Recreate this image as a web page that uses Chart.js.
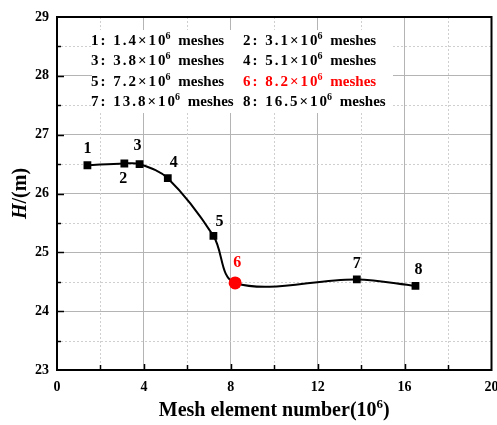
<!DOCTYPE html>
<html>
<head>
<meta charset="utf-8">
<script src="https://cdn.jsdelivr.net/npm/chart.js@4.4.1/dist/chart.umd.min.js"></script>
<style>
  html, body { margin: 0; padding: 0; background: #fff; }
  #wrap { width: 497px; height: 425px; }
</style>
</head>
<body>
<div id="wrap"><canvas id="grafico"></canvas></div>
<script>
// --- Dados ---
const meshCounts = [1.4, 3.1, 3.8, 5.1, 7.2, 8.2, 13.8, 16.5];      // x 10^6
const headValues = [26.48, 26.51, 26.50, 26.26, 25.28, 24.48, 24.54, 24.43];
const pointNames = ['1', '2', '3', '4', '5', '6', '7', '8'];
const selectedIndex = 5;   // ponto 6 em destaque
const xTicks = [0, 4, 8, 12, 16, 20];
const yTicks = [23, 24, 25, 26, 27, 28, 29];
const legendMeshes = ['1.4', '3.1', '3.8', '5.1', '7.2', '8.2', '13.8', '16.5'];

// offsets dos rótulos numéricos (px)
const labelOffsets = [[0, -16], [-1, 15], [-2, -18], [6, -15], [6, -14], [2, -20], [0, -16], [3, -16]];

const SERIF = '"Liberation Serif", "Times New Roman", serif';
const RED = '#ff0000';
const MAJOR_GRID = '#b4b4b4';
const MINOR_GRID = '#cfcfcf';

const $ = id => document.getElementById(id);

// --- Plugin: grade secundária, moldura, marcas internas, rótulos, legenda e títulos ---
const decoracao = {
    id: 'decoracao',
    beforeDatasetsDraw(chart) {
        const { ctx, chartArea: a, scales } = chart;
        const xs = scales.x, ys = scales.y;
        ctx.save();
        // grade secundária tracejada
        ctx.strokeStyle = MINOR_GRID;
        ctx.lineWidth = 1;
        ctx.setLineDash([2, 2]);
        for (let v = 2; v < 20; v += 4) {
            const px = Math.round(xs.getPixelForValue(v)) + 0.5;
            ctx.beginPath(); ctx.moveTo(px, a.top); ctx.lineTo(px, a.bottom); ctx.stroke();
        }
        for (let v = 23.5; v < 29; v += 1) {
            const py = Math.round(ys.getPixelForValue(v)) + 0.5;
            ctx.beginPath(); ctx.moveTo(a.left, py); ctx.lineTo(a.right, py); ctx.stroke();
        }
        ctx.setLineDash([]);
        // caixa branca da legenda (cobre a grade)
        ctx.fillStyle = '#fff';
        ctx.fillRect(92, 30, 301, 83);
        ctx.restore();
    },
    afterDatasetsDraw(chart) {
        const { ctx, chartArea: a, scales } = chart;
        const xs = scales.x, ys = scales.y;
        ctx.save();

        // marcas internas
        ctx.strokeStyle = '#000';
        ctx.lineWidth = 1.5;
        for (let v = 2; v < 20; v += 2) {
            const px = Math.round(xs.getPixelForValue(v)) + 0.5;
            const len = v % 4 === 0 ? 6 : 5;
            ctx.beginPath(); ctx.moveTo(px, a.bottom); ctx.lineTo(px, a.bottom - len); ctx.stroke();
        }
        for (let v = 23.5; v < 29; v += 0.5) {
            const py = Math.round(ys.getPixelForValue(v)) + 0.5;
            const len = Number.isInteger(v) ? 7 : 4;
            ctx.beginPath(); ctx.moveTo(a.left, py); ctx.lineTo(a.left + len, py); ctx.stroke();
        }

        // moldura
        ctx.lineWidth = 2;
        ctx.strokeRect(a.left, a.top, a.right - a.left, a.bottom - a.top);

        // rótulos dos pontos
        ctx.font = 'bold 16px ' + SERIF;
        ctx.textAlign = 'center';
        ctx.textBaseline = 'middle';
        meshCounts.forEach((m, i) => {
            const px = xs.getPixelForValue(m);
            const py = ys.getPixelForValue(headValues[i]);
            ctx.fillStyle = i === selectedIndex ? RED : '#000';
            ctx.fillText(pointNames[i], px + labelOffsets[i][0], py + labelOffsets[i][1]);
        });

        // legenda de malhas
        ctx.textAlign = 'left';
        ctx.textBaseline = 'alphabetic';
        legendMeshes.forEach((val, i) => {
            const col = i % 2, row = Math.floor(i / 2);
            let x = col === 0 ? 91 : 243;
            const y = 45 + row * 20.3;
            ctx.fillStyle = i === selectedIndex ? RED : '#000';
            ctx.font = 'bold 15px ' + SERIF;
            ctx.letterSpacing = '2px';
            const parte1 = pointNames[i] + ': ' + val + '\u00d710';
            ctx.fillText(parte1, x, y);
            x += ctx.measureText(parte1).width - 2;
            ctx.letterSpacing = '0px';
            ctx.font = 'bold 10px ' + SERIF;
            ctx.fillText('6', x, y - 6);
            x += ctx.measureText('6').width;
            ctx.font = 'bold 15px ' + SERIF;
            ctx.fillText(' meshes', x + 4, y);
        });

        // título do eixo X
        ctx.fillStyle = '#000';
        const tx = 'Mesh element number(10';
        ctx.font = 'bold 20px ' + SERIF;
        const w1 = ctx.measureText(tx).width;
        ctx.font = 'bold 13px ' + SERIF;
        const w2 = ctx.measureText('6').width;
        ctx.font = 'bold 20px ' + SERIF;
        const w3 = ctx.measureText(')').width;
        let sx = (a.left + a.right) / 2 - (w1 + w2 + w3) / 2;
        const by = 416;
        ctx.fillText(tx, sx, by);
        sx += w1;
        ctx.font = 'bold 13px ' + SERIF;
        ctx.fillText('6', sx, by - 8);
        sx += w2;
        ctx.font = 'bold 20px ' + SERIF;
        ctx.fillText(')', sx, by);

        // título do eixo Y
        ctx.translate(21, (a.top + a.bottom) / 2);
        ctx.rotate(-Math.PI / 2);
        ctx.textBaseline = 'middle';
        ctx.font = 'italic bold 20px ' + SERIF;
        const wH = ctx.measureText('H').width;
        ctx.font = 'bold 20px ' + SERIF;
        const wR = ctx.measureText('/(m)').width;
        let yx = -(wH + wR) / 2;
        ctx.font = 'italic bold 20px ' + SERIF;
        ctx.fillText('H', yx, 0);
        ctx.font = 'bold 20px ' + SERIF;
        ctx.fillText('/(m)', yx + wH, 0);

        ctx.restore();
    }
};

// --- Criação do gráfico ---
function criarGrafico() {
    const ctx = $('grafico').getContext('2d');
    const pontos = meshCounts.map((m, i) => ({ x: m, y: headValues[i] }));

    return new Chart(ctx, {
        type: 'line',
        data: {
            datasets: [{
                data: pontos,
                borderColor: '#000',
                borderWidth: 2,
                tension: 0.35,
                fill: false,
                pointStyle: c => c.dataIndex === selectedIndex ? 'circle' : 'rect',
                pointRadius: c => c.dataIndex === selectedIndex ? 6.5 : 5.5,
                pointBackgroundColor: c => c.dataIndex === selectedIndex ? RED : '#000',
                pointBorderColor: c => c.dataIndex === selectedIndex ? RED : '#000',
                pointBorderWidth: 0
            }]
        },
        options: {
            responsive: true,
            maintainAspectRatio: false,
            animation: false,
            events: [],
            layout: { padding: { top: 17, right: 4, left: 0, bottom: 0 } },
            plugins: { legend: { display: false }, tooltip: { enabled: false } },
            scales: {
                x: {
                    type: 'linear',
                    min: 0, max: 20,
                    afterBuildTicks: s => {
                        s.ticks = [];
                        for (let v = 0; v <= 20; v += 2) s.ticks.push({ value: v });
                    },
                    afterFit: s => { s.height = 55; s.paddingLeft = 0; s.paddingRight = 0; },
                    border: { display: false },
                    grid: {
                        drawTicks: false,
                        color: c => c.tick && c.tick.value % 4 === 0 ? MAJOR_GRID : 'rgba(0,0,0,0)',
                        lineWidth: 1
                    },
                    ticks: {
                        padding: 9,
                        maxRotation: 0,
                        autoSkip: false,
                        color: '#000',
                        font: { family: SERIF, size: 14, weight: 'bold' },
                        callback: v => xTicks.includes(v) ? String(v) : ''
                    }
                },
                y: {
                    type: 'linear',
                    min: 23, max: 29,
                    afterBuildTicks: s => {
                        s.ticks = [];
                        for (let v = 23; v <= 29.001; v += 0.5) s.ticks.push({ value: v });
                    },
                    afterFit: s => { s.width = 57; },
                    border: { display: false },
                    grid: {
                        drawTicks: false,
                        color: c => c.tick && Number.isInteger(c.tick.value) ? MAJOR_GRID : 'rgba(0,0,0,0)',
                        lineWidth: 1
                    },
                    ticks: {
                        padding: 8,
                        autoSkip: false,
                        color: '#000',
                        font: { family: SERIF, size: 14, weight: 'bold' },
                        callback: v => yTicks.includes(v) ? String(v) : ''
                    }
                }
            }
        },
        plugins: [decoracao]
    });
}

document.addEventListener('DOMContentLoaded', () => {
    criarGrafico();
});
</script>
</body>
</html>
